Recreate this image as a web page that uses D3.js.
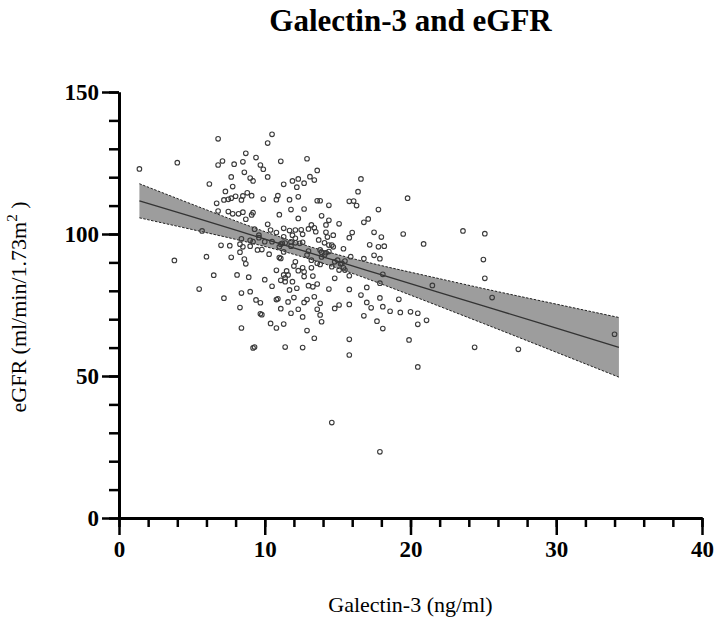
<!DOCTYPE html>
<html>
<head>
<meta charset="utf-8">
<script src="https://cdn.jsdelivr.net/npm/d3@7"></script>
<style>
  body { margin: 0; background: #fff; }
  text { font-family: "Liberation Serif", "Times New Roman", serif; fill: #000; }
</style>
</head>
<body>
<div id="chart"></div>
<script>
// galectin-3 (ng/ml) and eGFR values
const galectin = [6.8,10.5,10.2,4.0,6.8,7.1,7.9,8.5,8.7,9.4,9.7,9.9,11.1,8.6,7.7,9.0,9.2,10.2,6.2,7.8,
  7.3,11.3,11.9,12.3,12.2,6.7,7.2,7.5,7.7,8.0,8.4,8.5,8.8,9.1,9.9,10.8,10.9,11.7,12.3,6.8,
  7.5,7.8,8.2,8.5,9.2,8.7,11.0,11.8,12.3,5.7,10.2,9.3,10.4,10.8,11.3,11.7,11.9,12.1,8.4,9.0,
  9.6,10.0,7.0,7.6,8.3,8.5,9.0,10.5,11.1,11.4,11.8,9.5,9.8,10.3,8.3,8.6,8.7,6.0,7.7,3.8,
  11.0,11.3,10.8,11.5,11.4,11.6,11.1,11.4,6.5,8.1,8.9,10.0,10.5,5.5,8.4,9.0,11.7,12.2,
  12.9,13.6,13.1,13.4,12.7,16.6,16.4,13.6,13.8,14.4,15.8,16.1,16.3,12.7,17.8,19.8,13.9,14.4,14.2,15.1,
  16.8,17.1,13.2,13.4,12.5,13.0,13.5,12.6,14.2,14.7,14.3,16.0,15.8,17.5,18.0,19.5,12.1,12.1,11.8,12.4,
  12.6,13.7,14.1,14.4,14.7,15.4,17.2,17.8,18.2,17.5,17.9,16.8,13.9,14.2,13.9,13.0,12.9,14.8,15.2,15.5,
  12.1,12.6,12.0,12.3,12.7,13.2,13.3,13.8,14.6,15.1,15.4,15.8,14.8,18.1,17.9,13.0,13.3,13.6,14.4,15.8,17.0,
  7.2,8.3,9.4,9.7,9.7,9.8,10.8,10.9,11.1,11.6,12.0,11.8,12.3,8.4,10.4,10.8,11.3,9.2,9.3,11.4,
  12.6,12.7,12.9,13.6,13.8,13.8,13.9,12.9,13.4,12.6,14.8,15.1,15.8,15.8,15.8,16.6,17.0,17.3,16.8,17.9,
  17.7,18.1,18.6,19.3,20.0,20.5,19.2,19.9,20.5,20.5,14.6,17.9,
  23.6,25.1,20.9,25.0,25.1,21.5,25.6,21.1,24.4,27.4,34.0,1.4,9.1,
  9.6,9.2,11.3,11.2,11.0,11.1,11.3,11.9,12.7,13.4,13.2,13.6,13.8,14.1,14.4,14.6,15.0,15.3,15.5,15.9,18.1]
const egfr = [133.5,135.1,132.0,125.1,124.3,125.7,124.6,125.4,128.4,126.9,124.3,122.8,125.6,121.7,120.1,119.7,118.7,120.1,117.6,116.7,
  115.0,117.5,118.7,119.4,116.5,110.8,112.0,112.2,112.6,113.3,112.0,113.4,114.5,113.5,112.3,112.1,113.5,112.1,113.1,108.1,
  107.9,107.1,107.1,107.7,107.5,105.2,106.8,108.6,105.5,101.1,103.4,101.7,101.4,100.5,102.0,101.2,99.6,101.4,98.3,97.8,
  98.7,97.3,96.0,95.9,96.4,95.5,95.7,97.3,96.4,96.8,95.7,94.4,94.5,92.9,93.6,91.2,89.5,92.0,91.8,90.7,
  91.7,93.7,87.2,87.0,84.6,85.6,83.7,83.2,85.5,85.6,84.8,83.9,81.6,80.6,79.2,79.7,80.3,80.9,
  126.5,122.4,120.2,119.0,117.9,119.4,114.9,111.7,111.7,110.1,111.5,111.6,110.0,108.8,108.6,112.6,106.4,104.8,103.2,103.6,
  104.1,105.3,103.2,102.2,101.5,101.8,100.8,99.9,100.6,99.6,98.9,100.5,98.7,100.6,98.9,100.0,98.5,96.9,97.2,96.7,
  97.1,97.9,96.9,96.1,95.5,94.8,96.2,95.5,95.7,92.5,91.3,91.3,93.6,93.4,91.9,94.0,92.6,90.2,89.5,90.5,
  90.2,88.1,88.7,87.1,86.7,88.1,85.2,89.3,88.5,87.3,88.1,85.3,84.4,85.8,82.7,81.8,81.4,82.4,80.6,80.5,81.2,
  77.4,74.1,76.8,75.8,71.9,71.6,76.9,77.2,73.7,76.1,77.6,72.1,73.5,66.9,68.5,66.9,68.3,59.9,60.2,60.2,
  70.8,75.9,76.9,73.5,75.6,71.5,69.1,66.0,63.3,60.0,73.8,75.0,75.2,62.9,57.4,78.5,75.9,74.0,71.2,77.5,
  69.3,66.7,72.8,72.4,72.6,72.1,77.0,62.7,68.2,53.2,33.6,23.3,
  101.1,100.1,96.5,91.0,84.4,81.9,77.6,69.6,60.1,59.4,64.7,122.9,106.7,
  99.6,97.3,99.0,96.7,95.5,91.4,85.6,83.2,85.0,77.9,90.8,89.7,94.4,92.6,93.8,96.1,90.8,89.7,87.3,92.0,74.4]

// fitted line with its 95% band
const fitX = [1.4, 5, 9, 13, 17, 21, 25, 29, 34.3]
const fitY = [111.7, 106.1, 99.8, 93.5, 87.2, 80.9, 74.7, 68.4, 60.1]
const fitUpper = [117.7, 110.5, 102.7, 95.7, 90.1, 85.4, 80.8, 76.4, 70.6]
const fitLower = [105.7, 101.6, 96.9, 91.3, 84.3, 76.5, 68.5, 60.4, 49.6]

const xMajor = [0, 10, 20, 30, 40]
const xMinor = d3.range(0, 41, 2)
const yMajor = [0, 50, 100, 150]
const yMinor = d3.range(0, 151, 10)

const points = galectin.map((g, i) => ({ x: g, y: egfr[i] }))
const band = fitX.map((x, i) => ({ x, y: fitY[i], lo: fitLower[i], hi: fitUpper[i] }))

const width = 714, height = 620
const margin = { top: 92, right: 12, bottom: 102, left: 119 }
const innerW = width - margin.left - margin.right
const innerH = height - margin.top - margin.bottom

const svg = d3.select("#chart").append("svg")
  .attr("width", width)
  .attr("height", height)

const g = svg.append("g")
  .attr("transform", `translate(${margin.left},${margin.top})`)

const x = d3.scaleLinear().domain([0, 40]).range([0, innerW])
const y = d3.scaleLinear().domain([0, 150]).range([innerH, 0])

// confidence band
g.append("path")
  .datum(band)
  .attr("fill", "#9d9d9d")
  .attr("d", d3.area().x(d => x(d.x)).y0(d => y(d.lo)).y1(d => y(d.hi)).curve(d3.curveNatural))

const edge = key => d3.line().x(d => x(d.x)).y(d => y(d[key])).curve(d3.curveNatural)
;["lo", "hi"].forEach(k => {
  g.append("path")
    .datum(band)
    .attr("fill", "none")
    .attr("stroke", "#222")
    .attr("stroke-width", 1)
    .attr("stroke-dasharray", "2.5,1.5")
    .attr("d", edge(k))
})

g.append("path")
  .datum(band)
  .attr("fill", "none")
  .attr("stroke", "#333")
  .attr("stroke-width", 1.3)
  .attr("d", edge("y"))

// scatter
g.append("g")
  .selectAll("circle")
  .data(points)
  .join("circle")
    .attr("cx", d => x(d.x))
    .attr("cy", d => y(d.y))
    .attr("r", 2.3)
    .attr("fill", "none")
    .attr("stroke", "#3a3a3a")
    .attr("stroke-width", 1.1)

// axes
const styleAxis = sel => {
  sel.select(".domain").attr("stroke-width", 3).attr("stroke", "#000")
  sel.selectAll(".tick line").attr("stroke-width", 2.5).attr("stroke", "#000")
}

g.append("g")
  .attr("transform", `translate(0,${innerH})`)
  .call(d3.axisBottom(x).tickValues(xMinor).tickSize(9).tickSizeOuter(0).tickFormat(""))
  .call(styleAxis)

g.append("g")
  .attr("transform", `translate(0,${innerH})`)
  .call(d3.axisBottom(x).tickValues(xMajor).tickSize(17).tickSizeOuter(0).tickPadding(6))
  .call(styleAxis)
  .call(a => a.selectAll("text").attr("font-size", 23).attr("font-weight", "bold")
    .attr("font-family", "Liberation Serif, serif").attr("fill", "#000"))

g.append("g")
  .call(d3.axisLeft(y).tickValues(yMinor).tickSize(10).tickSizeOuter(0).tickFormat(""))
  .call(styleAxis)

g.append("g")
  .call(d3.axisLeft(y).tickValues(yMajor).tickSize(17).tickSizeOuter(0).tickPadding(3))
  .call(styleAxis)
  .call(a => a.selectAll("text").attr("font-size", 23).attr("font-weight", "bold")
    .attr("font-family", "Liberation Serif, serif").attr("fill", "#000"))

// titles
svg.append("text")
  .attr("x", margin.left + innerW / 2)
  .attr("y", 31)
  .attr("text-anchor", "middle")
  .attr("font-size", 31)
  .attr("font-weight", "bold")
  .text("Galectin-3 and eGFR")

svg.append("text")
  .attr("x", margin.left + innerW / 2)
  .attr("y", 612)
  .attr("text-anchor", "middle")
  .attr("font-size", 22)
  .text("Galectin-3 (ng/ml)")

const yLabel = svg.append("text")
  .attr("transform", `translate(26,${margin.top + innerH / 2 + 2}) rotate(-90)`)
  .attr("text-anchor", "middle")
  .attr("font-size", 22)
yLabel.append("tspan").text("eGFR (ml/min/1.73m")
yLabel.append("tspan").attr("font-size", 15).attr("dy", -9).text("2")
yLabel.append("tspan").attr("dy", 9).text(" )")
</script>
</body>
</html>
